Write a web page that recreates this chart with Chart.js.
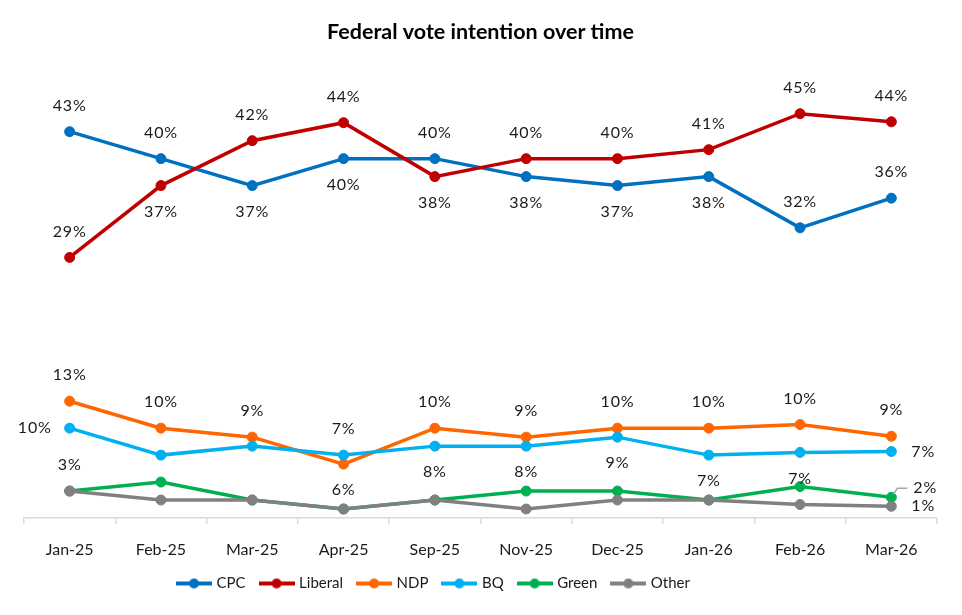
<!DOCTYPE html>
<html>
<head>
<meta charset="utf-8">
<script src="https://cdn.jsdelivr.net/npm/chart.js@4.4.1/dist/chart.umd.min.js"></script>
<style>
  html, body { margin: 0; padding: 0; background: #fff; }
  #wrap { width: 962px; height: 615px; position: relative; }
</style>
</head>
<body>
<div id="wrap"><canvas id="voteChart"></canvas></div>
<script>
// Data
const months = ['Jan-25', 'Feb-25', 'Mar-25', 'Apr-25', 'Sep-25', 'Nov-25', 'Dec-25', 'Jan-26', 'Feb-26', 'Mar-26'];
const cpc     = [43, 40, 37, 40, 40, 38, 37, 38, 32.3, 35.6];
const liberal = [29, 37, 42, 44, 38, 40, 40, 41, 45, 44.1];
const ndp     = [13, 10, 9, 6, 10, 9, 10, 10, 10.4, 9.1];
const bq      = [10, 7, 8, 7, 8, 8, 9, 7, 7.3, 7.4];
const green   = [3, 4, 2, 1, 2, 3, 3, 2, 3.5, 2.3];
const other   = [3, 2, 2, 1, 2, 1, 2, 2, 1.5, 1.3];

// where each data label sits (null = no label)
const cpcLabels     = ['above', 'above', 'below', 'below', 'above', 'below', 'below', 'below', 'above', 'above'];
const liberalLabels = ['above', 'below', 'above', 'above', 'below', 'above', 'above', 'above', 'above', 'above'];
const ndpLabels     = ['above', 'above', 'above', 'below', 'above', 'above', 'above', 'above', 'above', 'above'];
const bqLabels      = ['left', null, null, 'above', 'below', 'below', 'below', 'below', 'below', 'right'];
const greenLabels   = [null, null, null, null, null, null, null, null, null, 'leader'];
const otherLabels   = ['above', null, null, null, null, null, null, null, null, 'right'];

const FONT = 'Lato';

// legend symbol: line with a dot in the middle
function legendMarker(color) {
    const c = document.createElement('canvas');
    c.width = 36;
    c.height = 12;
    const g = c.getContext('2d');
    g.strokeStyle = color;
    g.lineWidth = 4;
    g.beginPath();
    g.moveTo(0, 6);
    g.lineTo(36, 6);
    g.stroke();
    g.fillStyle = color;
    g.beginPath();
    g.arc(18, 6, 5, 0, Math.PI * 2);
    g.fill();
    return c;
}

function series(label, data, color, labels, order) {
    return {
        label: label,
        data: data,
        borderColor: color,
        backgroundColor: color,
        pointBackgroundColor: color,
        pointBorderColor: color,
        borderWidth: 3.5,
        pointRadius: 5,
        pointHoverRadius: 5,
        pointBorderWidth: 1,
        pointStyle: 'circle',
        tension: 0,
        order: order,
        clip: false,
        labelPos: labels,
        legendIcon: legendMarker(color)
    };
}

// Draw the value labels next to the points
const valueLabels = {
    id: 'valueLabels',
    afterDatasetsDraw(chart) {
        const ctx = chart.ctx;
        ctx.save();
        ctx.font = '16px ' + FONT;
        ctx.letterSpacing = '0.8px';
        ctx.fillStyle = '#1a1a1a';
        ctx.textBaseline = 'middle';
        chart.data.datasets.forEach((ds, i) => {
            const meta = chart.getDatasetMeta(i);
            ds.labelPos.forEach((pos, j) => {
                if (!pos) return;
                const pt = meta.data[j];
                const text = Math.round(ds.data[j]) + '%';
                let x = pt.x, y = pt.y;
                ctx.textAlign = 'center';
                if (pos === 'above') y -= 26;
                else if (pos === 'below') y += 26;
                else if (pos === 'left') { ctx.textAlign = 'right'; x -= 18; }
                else if (pos === 'right') { ctx.textAlign = 'left'; x += 20; }
                else if (pos === 'leader') {
                    ctx.strokeStyle = '#a6a6a6';
                    ctx.lineWidth = 1.5;
                    ctx.beginPath();
                    ctx.moveTo(x + 2, y - 3);
                    ctx.lineTo(x + 6, y - 9);
                    ctx.lineTo(x + 16, y - 9);
                    ctx.stroke();
                    ctx.textAlign = 'left';
                    x += 22;
                    y -= 9;
                }
                ctx.fillText(text, x, y);
            });
        });
        ctx.restore();
    }
};

// Excel leaves the legend a bit left of centre
const legendNudge = {
    id: 'legendNudge',
    afterLayout(chart) {
        chart.legend.left -= 46;
        chart.legend.right -= 46;
    }
};

const ctx = document.getElementById('voteChart').getContext('2d');
new Chart(ctx, {
    type: 'line',
    data: {
        labels: months,
        datasets: [
            series('CPC', cpc, '#0070C0', cpcLabels, 5),
            series('Liberal', liberal, '#C00000', liberalLabels, 4),
            series('NDP', ndp, '#FF6600', ndpLabels, 3),
            series('BQ', bq, '#00B0F0', bqLabels, 2),
            series('Green', green, '#00B050', greenLabels, 1),
            series('Other', other, '#808080', otherLabels, 0)
        ]
    },
    options: {
        responsive: true,
        maintainAspectRatio: false,
        animation: false,
        layout: { padding: { left: 24, right: 25, top: 0, bottom: 14 } },
        plugins: {
            title: {
                display: true,
                text: 'Federal vote intention over time',
                color: '#000',
                font: { family: FONT, size: 21.5, weight: 'bold', lineHeight: 1.2 },
                padding: { top: 19, bottom: 24 }
            },
            legend: {
                position: 'bottom',
                labels: {
                    color: '#1a1a1a',
                    font: { family: FONT, size: 15 },
                    usePointStyle: true,
                    pointStyleWidth: 30,
                    boxHeight: 12,
                    padding: 16,
                    generateLabels(chart) {
                        return chart.data.datasets.map((ds, i) => ({
                            text: ds.label,
                            pointStyle: ds.legendIcon,
                            fillStyle: ds.borderColor,
                            strokeStyle: ds.borderColor,
                            fontColor: '#1a1a1a',
                            lineWidth: 0,
                            hidden: false,
                            datasetIndex: i
                        }));
                    }
                }
            },
            tooltip: { enabled: false }
        },
        scales: {
            x: {
                offset: true,
                grid: {
                    offset: true,
                    drawOnChartArea: false,
                    drawTicks: true,
                    tickLength: 6,
                    color: '#d9d9d9',
                    lineWidth: 1.5
                },
                border: { display: true, color: '#d9d9d9', width: 1.5 },
                ticks: {
                    color: '#1a1a1a',
                    font: { family: FONT, size: 16 },
                    padding: 16,
                    maxRotation: 0
                },
                afterFit(scale) {
                    scale.height = 42;
                }
            },
            y: {
                display: false,
                min: 0,
                max: 50
            }
        }
    },
    plugins: [valueLabels, legendNudge]
});
</script>
</body>
</html>
